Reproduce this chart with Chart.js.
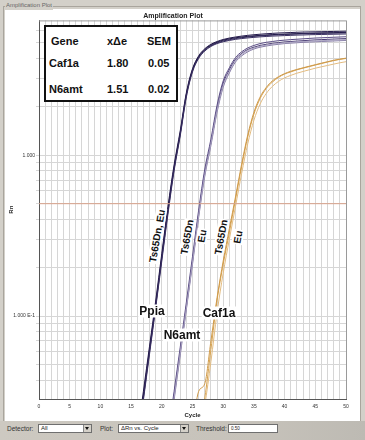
<!DOCTYPE html>
<html><head><meta charset="utf-8">
<script src="https://cdn.jsdelivr.net/npm/chart.js@4/dist/chart.umd.min.js"></script>
<style>
html,body{margin:0;padding:0;}
body{width:365px;height:440px;background:#d3d0c9;position:relative;overflow:hidden;font-family:"Liberation Sans",Arial,sans-serif;}
#frame{position:absolute;left:3px;top:6px;width:358px;height:416px;border:1px solid #a9a59d;box-sizing:border-box;}
#panel{position:absolute;left:5px;top:9px;width:355px;height:412px;background:#fff;}
#grp{position:absolute;left:5px;top:1px;font-size:6px;line-height:9px;color:#666;background:#d3d0c9;padding:0 1px;}
#wrap{position:absolute;left:0;top:0;width:365px;height:420px;}
.ann{position:absolute;z-index:5;font-weight:bold;color:#111;white-space:nowrap;}
#tbl{position:absolute;z-index:5;left:44px;top:25px;width:134px;height:77px;box-sizing:border-box;border:2px solid #111;background:#fff;}
#tbl span{position:absolute;font-weight:bold;font-size:11px;color:#111;line-height:12px;}
.lbl{background:#fff;padding:0 1px;font-size:12px;line-height:13px;transform:translate(-50%,-50%);}
.rot{background:#fff;padding:0 1px;font-size:10px;line-height:11px;transform:translate(-50%,-50%) rotate(-80deg);}
#tb{position:absolute;left:0;top:421px;width:365px;height:19px;background:linear-gradient(90deg,#cdc9c1,#c6c2ba 70%,#bdbab3);}
#tb .t{position:absolute;top:4px;font-size:6.5px;line-height:8px;color:#333;}
#tb .sel,#tb .inp{position:absolute;top:3px;height:9px;background:#fff;border:1px solid #6f6f6f;box-sizing:border-box;font-size:6px;line-height:7px;color:#222;padding-left:2px;}
#tb .sel b{position:absolute;right:0;top:0;width:7px;height:7px;background:#d4d0c8;border-left:1px solid #888;}
#tb .sel b:after{content:"";position:absolute;left:1px;top:2px;border-left:2.5px solid transparent;border-right:2.5px solid transparent;border-top:3px solid #111;}
</style>
</head><body>
<div id="frame"></div>
<div id="panel"></div>
<div id="grp">Amplification Plot</div>
<div id="wrap"><canvas id="c" width="365" height="420"></canvas></div>

<div id="tbl">
  <span style="left:5px;top:8px">Gene</span>
  <span style="left:61px;top:8px">x&Delta;e</span>
  <span style="left:101px;top:8px">SEM</span>
  <span style="left:3px;top:30px">Caf1a</span>
  <span style="left:61px;top:30px">1.80</span>
  <span style="left:102px;top:30px">0.05</span>
  <span style="left:3px;top:56px">N6amt</span>
  <span style="left:61px;top:56px">1.51</span>
  <span style="left:102px;top:56px">0.02</span>
</div>

<div class="ann rot" style="left:157px;top:236px">Ts65Dn, Eu</div>
<div class="ann rot" style="left:187px;top:237px">Ts65Dn</div>
<div class="ann rot" style="left:202px;top:236px">Eu</div>
<div class="ann rot" style="left:221px;top:237px">Ts65Dn</div>
<div class="ann rot" style="left:238px;top:237px">Eu</div>
<div class="ann lbl" style="left:152px;top:311px">Ppia</div>
<div class="ann lbl" style="left:182px;top:335px">N6amt</div>
<div class="ann lbl" style="left:219px;top:313px">Caf1a</div>

<div id="tb">
  <span class="t" style="left:7px">Detector:</span>
  <div class="sel" style="left:38px;width:54px">All<b></b></div>
  <span class="t" style="left:100px">Plot:</span>
  <div class="sel" style="left:118px;width:71px">&Delta;Rn vs. Cycle<b></b></div>
  <span class="t" style="left:196px">Threshold:</span>
  <div class="inp" style="left:228px;width:50px;font-size:4.5px">0.50</div>
</div>

<script>
// ---- data ----
const cycles = [16,17,18,19,20,21,22,23,24,25,26,27,28,29,30,31,32,33,34,35,36,37,38,39,40,41,42,43,44,45,46,47,48,49,50];

const ppiaA = [0.017,0.032,0.062,0.118,0.235,0.46,0.84,1.38,2.4,3.4,4.1,4.55,4.85,5.05,5.2,5.3,5.38,5.44,5.49,5.53,5.57,5.6,5.63,5.65,5.67,5.69,5.71,5.73,5.74,5.76,5.77,5.78,5.79,5.8,5.81];
const ppiaB = [0.016,0.03,0.058,0.112,0.22,0.43,0.8,1.32,2.3,3.3,4.0,4.45,4.75,4.95,5.08,5.18,5.26,5.32,5.37,5.41,5.45,5.48,5.51,5.53,5.55,5.57,5.59,5.6,5.62,5.63,5.64,5.65,5.66,5.67,5.68];
const ppiaC = [0.018,0.034,0.065,0.124,0.245,0.48,0.87,1.42,2.45,3.45,4.15,4.6,4.9,5.1,5.25,5.36,5.44,5.51,5.57,5.62,5.66,5.7,5.73,5.76,5.78,5.8,5.82,5.84,5.85,5.86,5.87,5.88,5.89,5.9,5.91];
const ppiaD = [0.017,0.031,0.06,0.115,0.228,0.445,0.82,1.35,2.35,3.35,4.05,4.5,4.8,5.0,5.14,5.24,5.32,5.39,5.44,5.49,5.53,5.56,5.59,5.62,5.64,5.66,5.68,5.7,5.71,5.72,5.73,5.74,5.75,5.76,5.77];

const n6amtA = [null,null,null,null,null,0.017,0.032,0.06,0.115,0.22,0.43,0.78,1.2,1.95,2.8,3.4,3.95,4.3,4.55,4.7,4.82,4.9,4.97,5.02,5.07,5.1,5.13,5.16,5.19,5.22,5.24,5.26,5.28,5.3,5.32];
const n6amtB = [null,null,null,null,null,0.016,0.03,0.057,0.11,0.21,0.41,0.74,1.15,1.85,2.65,3.25,3.8,4.15,4.4,4.58,4.7,4.78,4.85,4.9,4.95,4.98,5.01,5.04,5.06,5.08,5.1,5.12,5.14,5.16,5.18];
const n6amtC = [null,null,null,null,null,0.018,0.034,0.064,0.122,0.235,0.455,0.82,1.26,2.05,2.9,3.5,4.05,4.4,4.65,4.82,4.95,5.04,5.1,5.16,5.2,5.24,5.27,5.3,5.33,5.36,5.38,5.4,5.42,5.44,5.46];
const n6amtD = [null,null,null,null,null,0.017,0.031,0.059,0.112,0.215,0.42,0.76,1.18,1.9,2.72,3.32,3.88,4.22,4.48,4.64,4.76,4.84,4.91,4.96,5.0,5.04,5.07,5.1,5.12,5.14,5.16,5.18,5.2,5.22,5.24];

const caf1aA = [null,null,null,null,null,null,null,null,null,0.014,0.02,0.031,0.062,0.125,0.21,0.33,0.53,0.85,1.3,1.8,2.25,2.6,2.85,3.05,3.2,3.3,3.4,3.48,3.56,3.64,3.72,3.8,3.88,3.95,4.0];
const caf1aB = [null,null,null,null,null,null,null,null,null,0.012,0.018,0.028,0.052,0.105,0.185,0.3,0.48,0.77,1.18,1.65,2.08,2.42,2.68,2.88,3.03,3.14,3.24,3.32,3.4,3.48,3.55,3.62,3.69,3.76,3.82];
const caf1aC = [null,null,null,null,null,null,null,null,null,0.02,0.034,0.038,0.07,0.13,0.22,0.35,0.55,0.88,1.34,1.85,2.3,2.64,2.9,3.08,3.22,3.33,3.42,3.5,3.58,3.66,3.74,3.82,3.9,3.96,4.02];

const threshold = 0.50;
const thresholdCycles = [0, 50];

const xTickLabels = [0,5,10,15,20,25,30,35,40,45,50];
const yGridValues = [0.04,0.05,0.06,0.07,0.08,0.09,0.1,0.2,0.3,0.4,0.5,0.6,0.7,0.8,0.9,1,2,3,4,5,6];
const yTickLabels = {"1": "1.000", "0.1": "1.000 E-1"};

// ---- chart ----
function pts(vals){ const out=[]; vals.forEach((v,i)=>{ if(v!==null) out.push({x:cycles[i], y:v}); }); return out; }
function ds(vals,color){ return {data:pts(vals), borderColor:color, borderWidth:1, pointRadius:0, cubicInterpolationMode:'monotone', fill:false}; }

const datasets = [
  {data: thresholdCycles.map(c=>({x:c,y:threshold})), borderColor:'#d9a38c', borderWidth:1, pointRadius:0, fill:false},
  ds(caf1aB,'#e3bc80'), ds(caf1aC,'#cf9a4a'), ds(caf1aA,'#d7a452'),
  ds(n6amtD,'#a8a1c0'), ds(n6amtB,'#857ba5'), ds(n6amtC,'#5a4c85'), ds(n6amtA,'#483a72'),
  ds(ppiaB,'#3a3062'), ds(ppiaD,'#2c2356'), ds(ppiaC,'#251b4c'), ds(ppiaA,'#1b1440')
];

const xGrid = [];
for (let c = 0; c <= 50; c++) xGrid.push(c);

const frameLines = {
  id:'frameLines',
  beforeDatasetsDraw(chart){
    const {ctx, chartArea:a} = chart;
    ctx.save(); ctx.strokeStyle='#9a9a9a'; ctx.lineWidth=1;
    ctx.beginPath(); ctx.moveTo(a.left, a.top+0.5); ctx.lineTo(a.right+0.5, a.top+0.5); ctx.lineTo(a.right+0.5, a.bottom); ctx.stroke();
    ctx.restore();
  }
};

new Chart(document.getElementById('c'), {
  type:'line',
  data:{datasets},
  plugins:[frameLines],
  options:{
    responsive:false, animation:false, devicePixelRatio:1,
    layout:{padding:{left:0,right:19,top:0,bottom:0}},
    plugins:{
      legend:{display:false}, tooltip:{enabled:false},
      title:{display:true, text:'Amplification Plot', color:'#222', font:{family:'Liberation Sans', size:7, weight:'bold'}, padding:{top:12,bottom:0}}
    },
    scales:{
      x:{type:'linear', min:0, max:50,
        afterBuildTicks:s=>{ s.ticks = xGrid.map(v=>({value:v})); },
        afterFit:s=>{ s.height = 21; },
        ticks:{autoSkip:false, maxRotation:0, padding:5, color:'#333', font:{family:'Liberation Sans', size:5},
          callback:v=> xTickLabels.includes(v) ? String(v) : ''},
        grid:{color:'#d6d6d6', drawTicks:false},
        border:{color:'#555', width:1},
        title:{display:true, text:'Cycle', color:'#222', font:{family:'Liberation Sans', size:6, weight:'bold'}, padding:{top:0,bottom:1}}
      },
      y:{type:'logarithmic', min:0.0305, max:6.9,
        afterBuildTicks:s=>{ s.ticks = yGridValues.map(v=>({value:v})); },
        afterFit:s=>{ s.width = 39; },
        ticks:{autoSkip:false, padding:1, color:'#333', font:{family:'Liberation Sans', size:5},
          callback:v=> yTickLabels[String(v)] || ''},
        grid:{color:'#d6d6d6', drawTicks:true, tickLength:3},
        border:{color:'#555', width:1},
        title:{display:true, text:'Rn', color:'#222', font:{family:'Liberation Sans', size:6, weight:'bold'}, padding:{top:8,bottom:0}}
      }
    }
  }
});
</script>
</body></html>
